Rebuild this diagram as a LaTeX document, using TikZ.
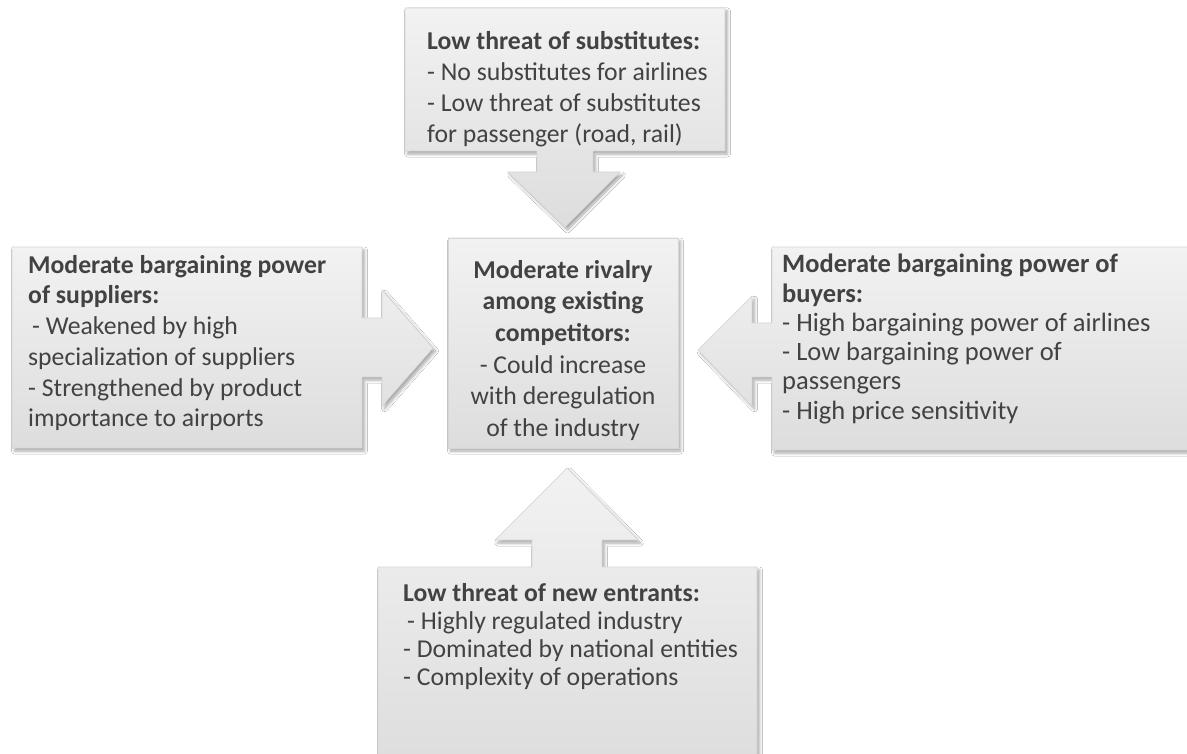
\documentclass[tikz,border=0pt]{standalone}
\usepackage{fontspec}
\setmainfont{Carlito}
\usetikzlibrary{shadows.blur}
\definecolor{boxtop}{HTML}{F2F2F2}
\definecolor{boxbot}{HTML}{DDDDDD}
\definecolor{boxline}{HTML}{D6D6D6}
\definecolor{txt}{HTML}{424242}
\tikzset{
  callout/.style={draw=boxline, line width=0.7pt, top color=boxtop, bottom color=boxbot,
    blur shadow={shadow xshift=2.5pt, shadow yshift=-3pt, shadow blur steps=6, shadow opacity=35, shadow blur radius=3pt}},
  lbl/.style={inner sep=0pt, text=txt, font=\fontsize{25.7}{31}\selectfont, align=left, anchor=north west},
}
\begin{document}
\begin{tikzpicture}[x=1pt,y=-1pt]
\clip (0,0) rectangle (1187,754);
\fill[white] (0,0) rectangle (1187,754);
% top callout (down arrow)
\path[callout] (405,8) -- (725,8) -- (725,151) -- (593,151) -- (593,172) -- (620,172)
  -- (565,227) -- (508,172) -- (537,172) -- (537,151) -- (405,151) -- cycle;
% left callout (right arrow)
\path[callout] (12,247) -- (362,247) -- (362,318) -- (382,318) -- (382,290) -- (433,348)
  -- (382,406) -- (382,377) -- (362,377) -- (362,448) -- (12,448) -- cycle;
% right callout (left arrow)
\path[callout] (1200,247) -- (772,247) -- (772,323) -- (752,323) -- (752,296) -- (698,350)
  -- (752,406) -- (752,377) -- (772,377) -- (772,450) -- (1200,450) -- cycle;
% bottom callout (up arrow)
\path[callout] (378,770) -- (378,567) -- (532,567) -- (532,540) -- (495,540) -- (567,468)
  -- (638,540) -- (602,540) -- (602,567) -- (757,567) -- (757,770) -- cycle;
% centre box
\path[callout] (448,238) rectangle (678,448);

\node[lbl] (subst) at (427,31) {\textbf{Low threat of substitutes:}\\- No substitutes for airlines\\- Low threat of substitutes\\for passenger (road, rail)};
\node[lbl, font=\fontsize{25.7}{30.7}\selectfont] (suppl) at (28,255) {\textbf{Moderate bargaining power}\\\textbf{of suppliers:}\\\hspace*{4pt}- Weakened by high\\specialization of suppliers\\- Strengthened by product\\importance to airports};
\node[lbl, align=center, anchor=north, font=\fontsize{25.7}{31.6}\selectfont] (rival) at (563,260) {\textbf{Moderate rivalry}\\\textbf{among existing}\\\textbf{competitors:}\\- Could increase\\with deregulation\\of the industry};
\node[lbl, font=\fontsize{26.5}{29.3}\selectfont] (buyer) at (782,254) {\textbf{Moderate bargaining power of}\\\textbf{buyers:}\\- High bargaining power of airlines\\- Low bargaining power of\\passengers\\- High price sensitivity};
\node[lbl, font=\fontsize{25.7}{28}\selectfont] (entr) at (403,583) {\textbf{Low threat of new entrants:}\\\hspace*{4pt}- Highly regulated industry\\- Dominated by national entities\\- Complexity of operations};
\end{tikzpicture}
\end{document}
